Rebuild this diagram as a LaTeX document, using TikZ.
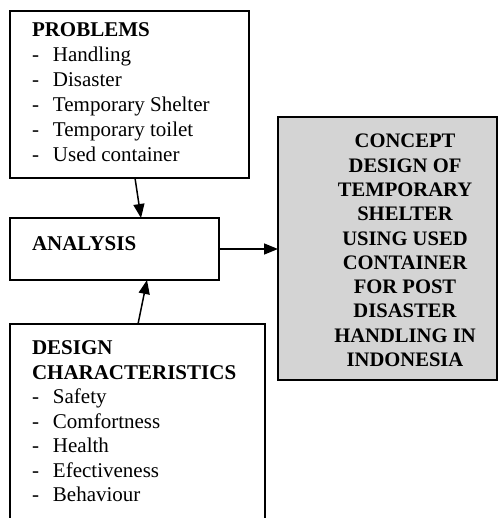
\documentclass[tikz,border=0pt]{standalone}
\usepackage{fontspec}
\setmainfont{Liberation Serif}
\usetikzlibrary{arrows.meta}
\begin{document}
\begin{tikzpicture}[x=1bp,y=-1bp,
  box/.style={draw, line width=1.5bp, inner sep=0, outer sep=0, anchor=north west},
  txt/.style={inner sep=0, outer sep=0, align=left, anchor=north west},
  arr/.style={line width=1.5bp, -{Triangle[length=14bp,width=11bp]}}]
\useasboundingbox (0,0) rectangle (498,518);
\clip (0,0) rectangle (498,518);
% boxes
\node[box, minimum width=239bp, minimum height=167bp] (prob) at (10,11) {};
\node[box, minimum width=209bp, minimum height=62bp] (ana) at (10,218) {};
\node[box, minimum width=255bp, minimum height=220bp] (des) at (10,324) {};
\node[box, fill=black!17, line width=1.8bp, minimum width=219bp, minimum height=263bp] (con) at (278,117) {};
% texts
\newcommand{\itm}[1]{\makebox[21bp][l]{-}#1}
\node[txt, font={\fontsize{21bp}{25bp}\selectfont}] (probt) at (32,22.8) {%
  \textbf{PROBLEMS}\\
  \itm{Handling}\\
  \itm{Disaster}\\
  \itm{Temporary Shelter}\\
  \itm{Temporary toilet}\\
  \itm{Used container}};
\node[txt, anchor=base west, font={\fontsize{21bp}{25bp}\selectfont\bfseries}] (anat) at (32,250) {ANALYSIS};
\node[txt, font={\fontsize{21bp}{24.5bp}\selectfont}] (dest) at (32,340.8) {%
  \textbf{DESIGN}\\
  \textbf{CHARACTERISTICS}\\
  \itm{Safety}\\
  \itm{Comfortness}\\
  \itm{Health}\\
  \itm{Efectiveness}\\
  \itm{Behaviour}};
\node[txt, align=center, anchor=north, font={\fontsize{20.6bp}{24.3bp}\selectfont\bfseries}] (cont) at (405,134.2) {%
  CONCEPT\\ DESIGN OF\\ TEMPORARY\\ SHELTER\\ USING USED\\ CONTAINER\\ FOR POST\\ DISASTER\\ HANDLING IN\\ INDONESIA};
% connectors
\draw[arr] ([xshift=5.5bp]prob.south) -- ([xshift=26.5bp]ana.north);
\draw[arr] ([xshift=0.5bp]des.north) -- ([xshift=32.5bp]ana.south);
\draw[arr] (ana.east) -- (ana.east -| con.west);
\end{tikzpicture}
\end{document}
